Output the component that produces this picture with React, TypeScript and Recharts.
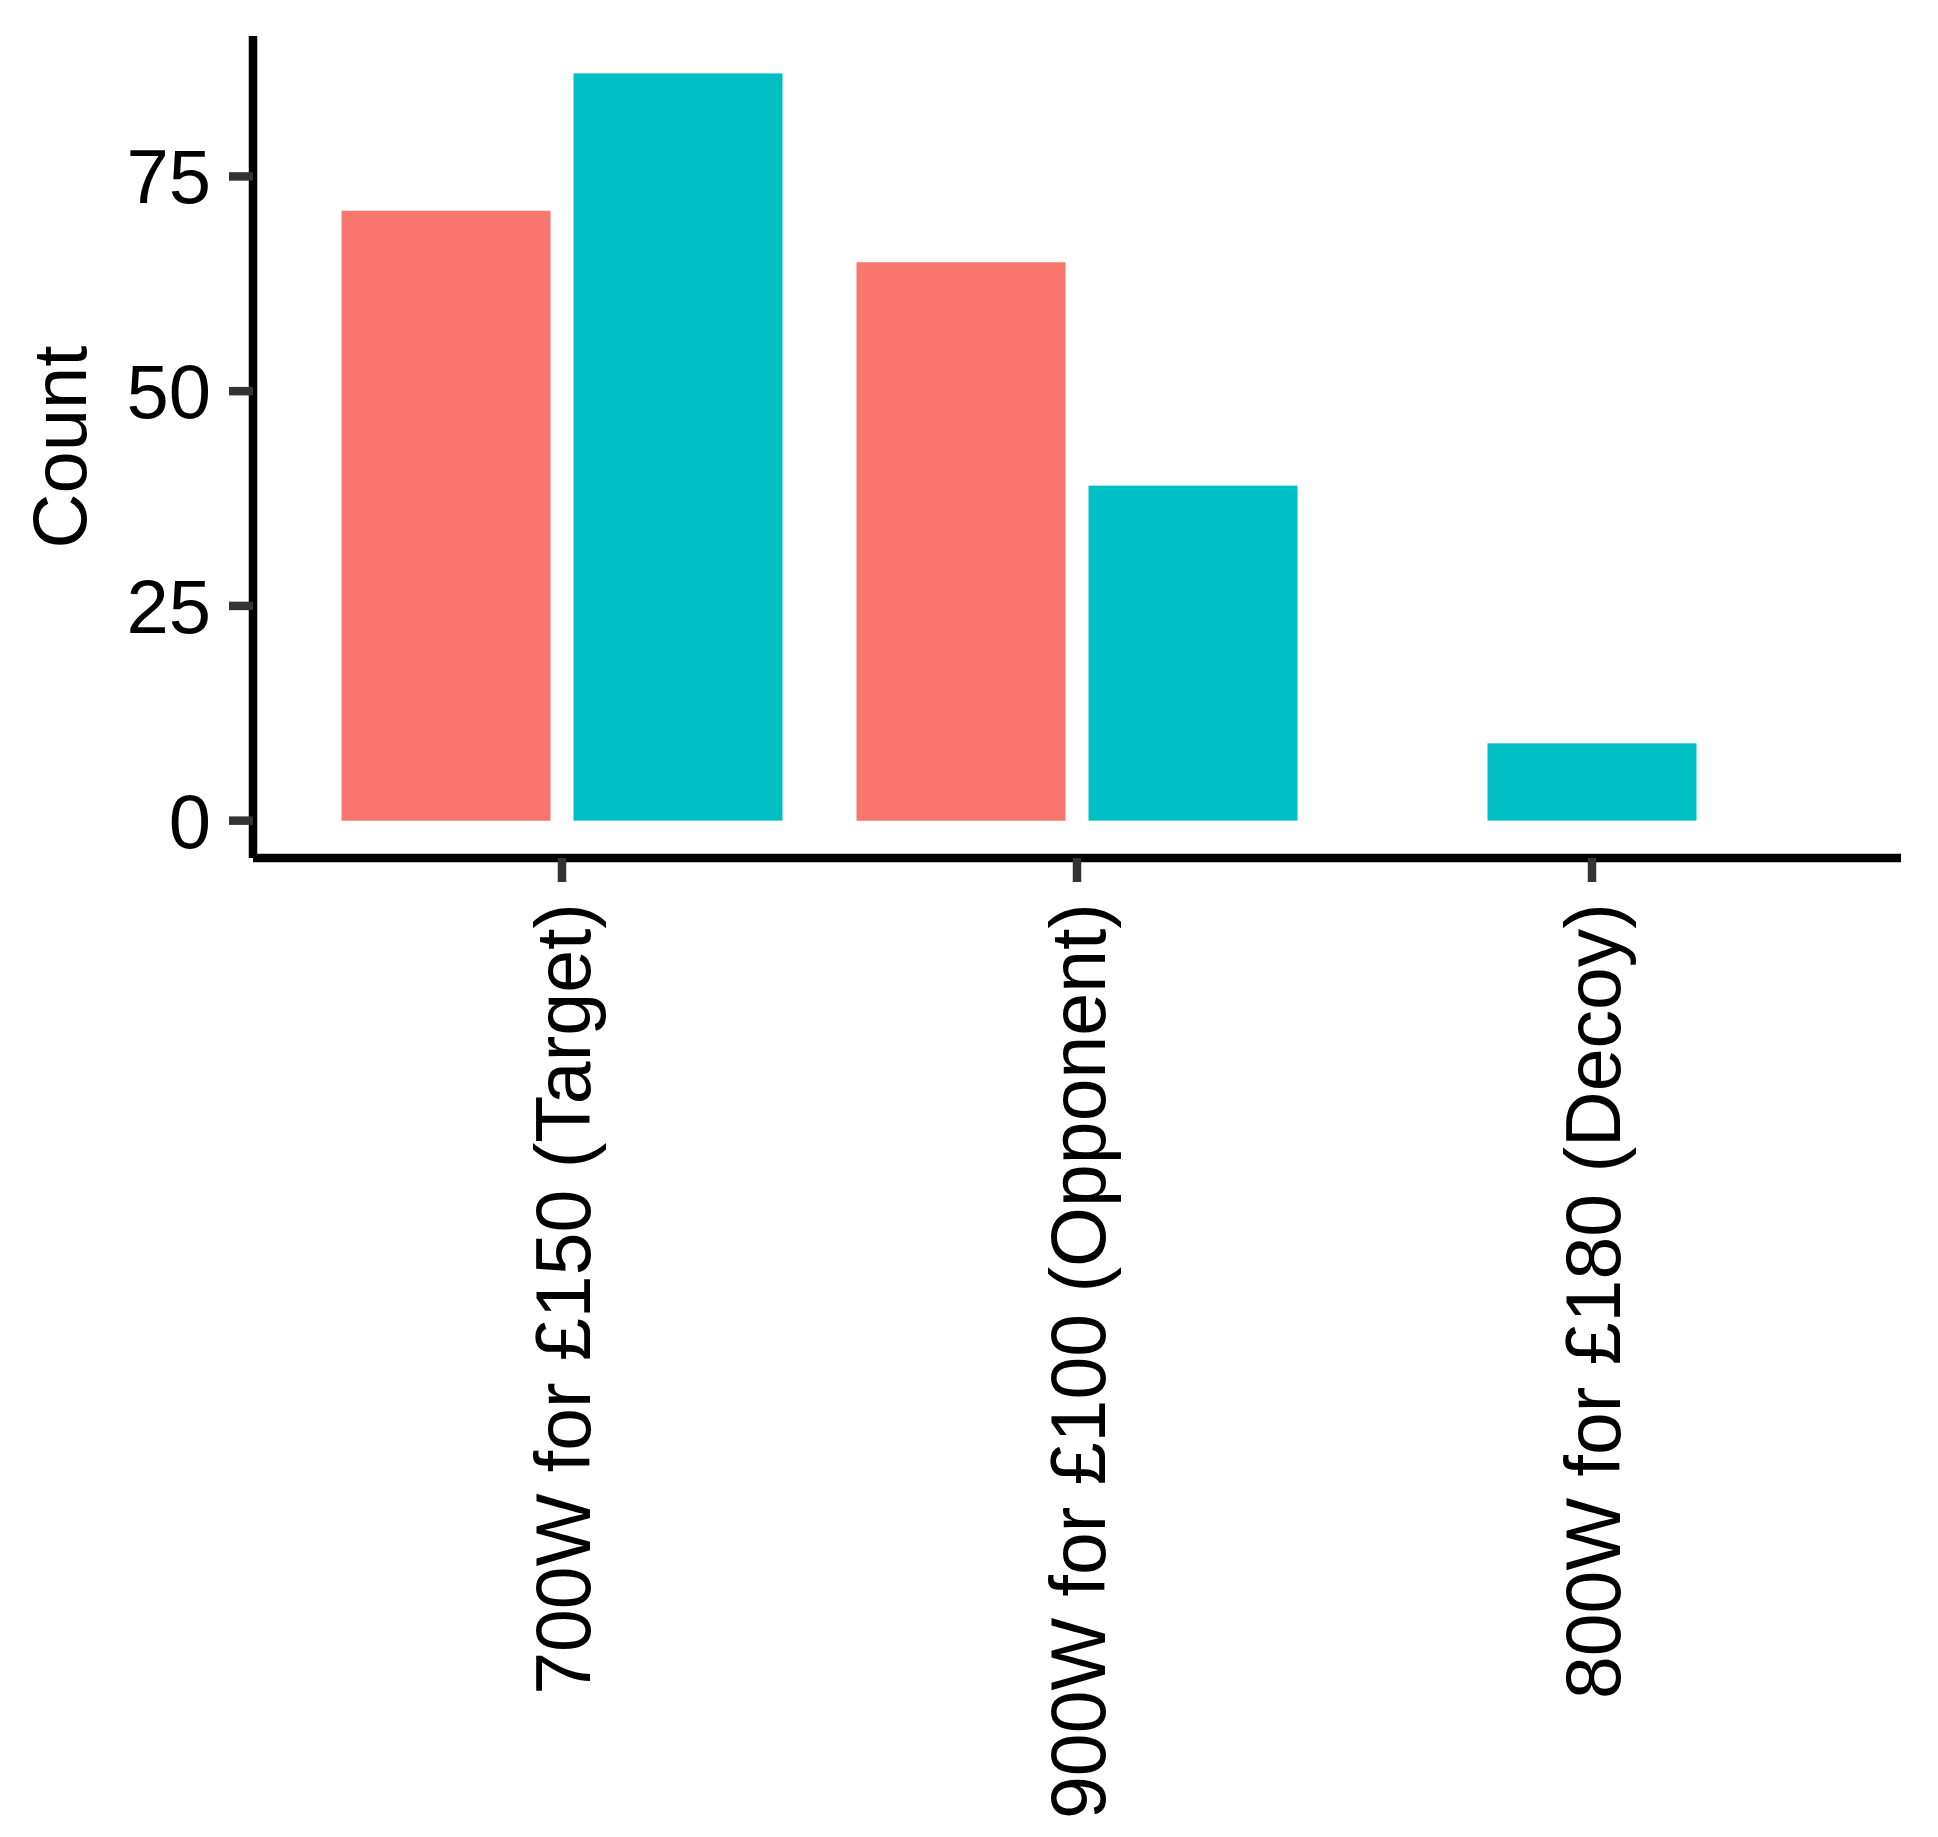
import { BarChart, Bar, XAxis, YAxis, Label } from "recharts";

const categories = [
  "700W for £150 (Target)",
  "900W for £100 (Opponent)",
  "800W for £180 (Decoy)",
];
const seriesA = [71, 65, null];
const seriesB = [87, 39, 9];
const yTicks = [0, 25, 50, 75];

const data = categories.map((name, i) => ({
  name,
  a: seriesA[i],
  b: seriesB[i],
}));

const FONT = "'Liberation Sans', Arial, Helvetica, sans-serif";
const FONT_SIZE = 76;
const BAR_GAP = 23;

const YTick = (props: any) => {
  const { x, y, payload } = props;
  return (
    <text
      x={x}
      y={y}
      dy={27}
      textAnchor="end"
      fontFamily={FONT}
      fontSize={FONT_SIZE}
      fill="#000"
    >
      {payload.value}
    </text>
  );
};

const XTick = (props: any) => {
  const { x, y, payload } = props;
  const tx = x + 28;
  return (
    <text
      x={tx}
      y={y}
      transform={`rotate(-90, ${tx}, ${y})`}
      textAnchor="end"
      fontFamily={FONT}
      fontSize={77}
      fill="#000"
    >
      {payload.value}
    </text>
  );
};

// ggplot centres a lone bar in its slot when the other group is missing
const DodgeShape = (props: any) => {
  const { x, y, width, height, fill, payload } = props;
  const alone = payload.a == null;
  const shift = alone ? -(width + BAR_GAP) / 2 : 0;
  return <rect x={x + shift} y={y} width={width} height={height} fill={fill} />;
};

const CountLabel = () => (
  <text
    x={86}
    y={447}
    transform="rotate(-90, 86, 447)"
    textAnchor="middle"
    fontFamily={FONT}
    fontSize={FONT_SIZE}
    fill="#000"
  >
    Count
  </text>
);

export default function App() {
  return (
    <div style={{ position: "absolute", left: 0, top: 0, background: "#fff" }}>
      <BarChart
        width={1938}
        height={1837}
        data={data}
        margin={{ top: 36, right: 37, left: 0, bottom: 0 }}
        barCategoryGap={37}
        barGap={BAR_GAP}
      >
        <XAxis
          dataKey="name"
          height={979}
          padding={{ left: 51.5, right: 51.5 }}
          axisLine={{ stroke: "#000", strokeWidth: 8.5 }}
          tickLine={{ stroke: "#333", strokeWidth: 8.5 }}
          tickSize={24}
          tickMargin={21}
          interval={0}
          tick={<XTick />}
        />
        <YAxis
          width={253}
          type="number"
          domain={[-4.35, 91.35]}
          allowDataOverflow
          ticks={yTicks}
          axisLine={{ stroke: "#000", strokeWidth: 8.5 }}
          tickLine={{ stroke: "#333", strokeWidth: 8.5 }}
          tickSize={24}
          tickMargin={18}
          tick={<YTick />}
        >
          <Label content={<CountLabel />} />
        </YAxis>
        <Bar dataKey="a" fill="#F8766D" isAnimationActive={false} />
        <Bar
          dataKey="b"
          fill="#00BFC4"
          isAnimationActive={false}
          shape={<DodgeShape />}
        />
      </BarChart>
    </div>
  );
}
